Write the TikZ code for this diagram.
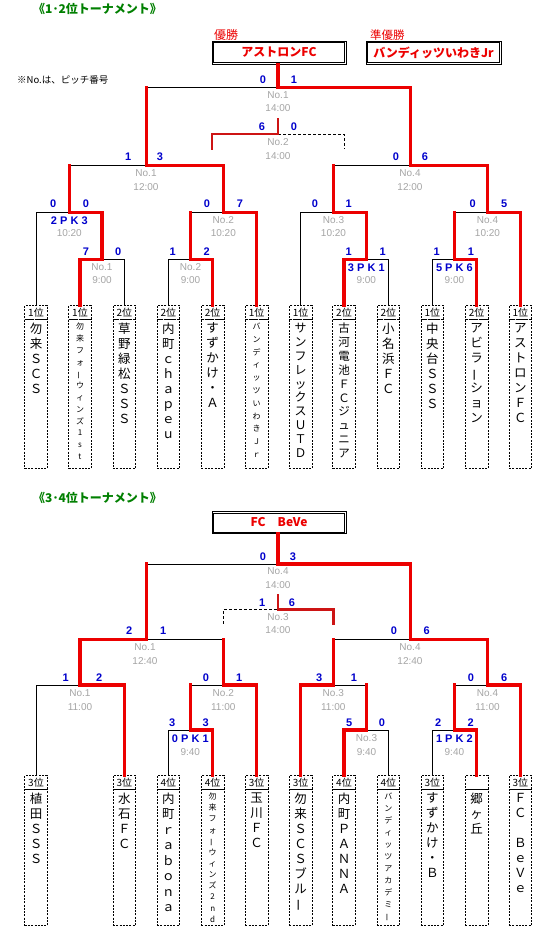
\documentclass[tikz,border=0pt]{standalone}
\usepackage{fontspec}
\setmainfont{Noto Sans CJK JP}
\newfontfamily\lat{Liberation Sans}
\definecolor{lred}{RGB}{236,0,0}
\definecolor{dred}{RGB}{205,20,20}
\definecolor{sblue}{RGB}{0,0,204}
\definecolor{gtxt}{RGB}{165,165,165}
\definecolor{tgreen}{RGB}{0,128,0}
\newcommand\vb{\rotatebox[origin=c]{90}{ー}}
\newcommand\tnbh{149}
\newcommand\team[6]{%
  \node[rankbox] (#1) at (#2,#3+6.8) {#4};
  \node[namebox, minimum height=\tnbh pt] (#1n) at (#2,#3+13.6+\tnbh/2) {};
  \node[#5] (#1t) at (#2,#3+17) {\vphantom{国}#6};
}
\newcommand\innerframe[1]{%
  \draw[line width=0.8pt] ([xshift=2pt,yshift=-2pt]#1.north west) rectangle ([xshift=-2pt,yshift=2pt]#1.south east);
}
\tikzset{
  blk/.style={line width=0.9pt, black},
  rd/.style={line width=3.5pt, lred, line cap=rect, line join=miter},
  rdthin/.style={line width=2.6pt, dred, line cap=rect, line join=miter},
  dsh/.style={line width=0.9pt, black, dash pattern=on 3pt off 2pt},
  score/.style={font=\lat\bfseries\fontsize{11}{12}\selectfont, text=sblue, inner sep=0},
  info/.style={font=\lat\fontsize{10}{11}\selectfont, text=gtxt, inner sep=0},
  rankbox/.style={draw, line width=0.8pt, dash pattern=on 2pt off 1.3pt, minimum width=22.7pt, minimum height=13.6pt, inner sep=0, font=\fontsize{10}{10}\selectfont},
  namebox/.style={draw, line width=0.8pt, dash pattern=on 2pt off 1.3pt, minimum width=22.7pt, inner sep=0},
  col/.style 2 args={font=\fontsize{#1}{#2}\selectfont, align=center, inner sep=0, anchor=north},
  winbox/.style={draw, line width=0.8pt, minimum height=23pt, inner sep=0, text=lred, font=\bfseries\fontsize{12}{13}\selectfont},
  redlab/.style={text=lred, font=\fontsize{12}{13}\selectfont, inner sep=0, anchor=west},
  title/.style={text=tgreen, font=\bfseries\fontsize{12}{13}\selectfont, inner sep=0, anchor=west},
}
\begin{document}
\begin{tikzpicture}[x=1pt,y=-1pt]
\useasboundingbox (0,0) rectangle (543,942);
\fill[white] (0,0) rectangle (543,942);

% ================= headers =================
\node[title] (ttl1) at (33,9) {《1･2位トーナメント》};
\node[redlab] (yu) at (214,35) {優勝};
\node[redlab, font=\fontsize{11.5}{12}\selectfont] (jyu) at (370,35) {準優勝};
\node[winbox, minimum width=134pt] (W1) at (279,52.5) {アストロンFC};
\innerframe{W1}
\node[winbox, minimum width=135pt] (W2) at (433.5,52.5) {バンディッツいわきJr};
\innerframe{W2}
\node[inner sep=0, anchor=west, font=\fontsize{9.5}{10}\selectfont] (note) at (17,80) {※No.は、ピッチ番号};

% ================= top teams =================
\team{T1}{36}{305.7}{1位}{col={12.5}{15}}{勿\\来\\Ｓ\\Ｃ\\Ｓ}
\team{T2}{80}{305.7}{1位}{col={8}{11.8}}{勿\\来\\フ\\ォ\\\vb\\ウ\\ィ\\ン\\ズ\\1\\s\\t}
\team{T3}{124.3}{305.7}{2位}{col={12.5}{15}}{草\\野\\緑\\松\\Ｓ\\Ｓ\\Ｓ}
\team{T4}{168.3}{305.7}{2位}{col={12.5}{15}}{内\\町\\ｃ\\ｈ\\ａ\\ｐ\\ｅ\\ｕ}
\team{T5}{212.7}{305.7}{2位}{col={12.5}{15}}{す\\ず\\か\\け\\・\\Ａ}
\team{T6}{256.7}{305.7}{1位}{col={8}{12.8}}{バ\\ン\\デ\\ィ\\ッ\\ツ\\い\\わ\\き\\Ｊ\\ｒ}
\team{T7}{300.7}{305.7}{1位}{col={12}{13.9}}{サ\\ン\\フ\\レ\\ッ\\ク\\ス\\Ｕ\\Ｔ\\Ｄ}
\team{T8}{344}{305.7}{2位}{col={11.5}{13.9}}{古\\河\\電\\池\\Ｆ\\Ｃ\\ジ\\ュ\\ニ\\ア}
\team{T9}{388.3}{305.7}{2位}{col={12.5}{15}}{小\\名\\浜\\Ｆ\\Ｃ}
\team{T10}{432.3}{305.7}{1位}{col={12.5}{15}}{中\\央\\台\\Ｓ\\Ｓ\\Ｓ}
\team{T11}{476.7}{305.7}{2位}{col={12.5}{15}}{ア\\ビ\\ラ\\\vb\\シ\\ョ\\ン}
\team{T12}{520.3}{305.7}{1位}{col={12.5}{15}}{ア\\ス\\ト\\ロ\\ン\\Ｆ\\Ｃ}

% ================= top junctions =================
\coordinate (a1l) at (80,259.3);   \coordinate (a1c) at (102,259.3);  \coordinate (a1r) at (124.3,259.3);
\coordinate (a2l) at (168.3,259.3);\coordinate (a2c) at (190.5,259.3);\coordinate (a2r) at (212.7,259.3);
\coordinate (a3l) at (344,259.3);  \coordinate (a3c) at (366.3,259.3);\coordinate (a3r) at (388.3,259.3);
\coordinate (a4l) at (432.3,259.3);\coordinate (a4c) at (454.4,259.3);\coordinate (a4r) at (476.7,259.3);
\coordinate (b1l) at (36,212.3);   \coordinate (b1c) at (69.3,212.3); \coordinate (b1r) at (102,212.3);
\coordinate (b2l) at (190.5,212.3);\coordinate (b2c) at (223.3,212.3);\coordinate (b2r) at (256.7,212.3);
\coordinate (b3l) at (300.7,212.3);\coordinate (b3c) at (333.5,212.3);\coordinate (b3r) at (366.3,212.3);
\coordinate (b4l) at (454.4,212.3);\coordinate (b4c) at (487.5,212.3);\coordinate (b4r) at (520.3,212.3);
\coordinate (c1l) at (69.3,165.3); \coordinate (c1c) at (146.7,165.3);\coordinate (c1r) at (223.3,165.3);
\coordinate (c2l) at (333.5,165.3);\coordinate (c2c) at (410.5,165.3);\coordinate (c2r) at (487.5,165.3);
\coordinate (fl) at (146.7,87.5);  \coordinate (fc) at (278,87.5);    \coordinate (fr) at (410.5,87.5);
\coordinate (thl) at (212,134);    \coordinate (thc) at (278,134);    \coordinate (thr) at (344,134);
\coordinate (thtop) at (278,119);  \coordinate (thlb) at (212,149);   \coordinate (thrb) at (344,149);

% black (losers)
\draw[blk] (T1.north) -- (b1l) -- (b1c);
\draw[blk] (T3.north) -- (a1r) -- (a1c);
\draw[blk] (T4.north) -- (a2l) -- (a2c);
\draw[blk] (b2l) -- (b2c);
\draw[blk] (T7.north) -- (b3l) -- (b3c);
\draw[blk] (T9.north) -- (a3r) -- (a3c);
\draw[blk] (T10.north) -- (a4l) -- (a4c);
\draw[blk] (b4l) -- (b4c);
\draw[blk] (c1l) -- (c1c);
\draw[blk] (c2l) -- (c2c);
\draw[blk] (fl) -- (fc);
\draw[dsh] (thc) -- (thr) -- (thrb);
% red (winners)
\draw[rd] (T2.north) -- (a1l) -- (a1c);
\draw[rd] (T5.north) -- (a2r) -- (a2c);
\draw[rd] (T8.north) -- (a3l) -- (a3c);
\draw[rd] (T11.north) -- (a4r) -- (a4c);
\draw[rd] (a1c) -- (b1r) -- (b1c);
\draw[rd] (a2c) -- (b2l);
\draw[rd] (T6.north) -- (b2r) -- (b2c);
\draw[rd] (a3c) -- (b3r) -- (b3c);
\draw[rd] (a4c) -- (b4l);
\draw[rd] (T12.north) -- (b4r) -- (b4c);
\draw[rd] (b1c) -- (c1l);
\draw[rd] (b2c) -- (c1r) -- (c1c);
\draw[rd] (b3c) -- (c2l);
\draw[rd] (b4c) -- (c2r) -- (c2c);
\draw[rd] (c1c) -- (fl);
\draw[rd] (c2c) -- (fr) -- (fc) -- (fc |- W1.south);
\draw[rdthin] (thlb) -- (thl) -- (thc) -- (thtop);

% scores top
\node[score] (s01) at (263,80) {0};    \node[score] (s02) at (294,80) {1};
\node[score] (s03) at (262,127) {6};   \node[score] (s04) at (294,127) {0};
\node[score] (s05) at (128.3,156.5) {1}; \node[score] (s06) at (160,156.5) {3};
\node[score] (s07) at (396,156.5) {0}; \node[score] (s08) at (425,156.5) {6};
\node[score] (s09) at (53.3,204) {0};  \node[score] (s10) at (86,204) {0};
\node[score] (s11) at (207,204) {0};   \node[score] (s12) at (240,204) {7};
\node[score] (s13) at (315,204) {0};   \node[score] (s14) at (348.7,204) {1};
\node[score] (s15) at (472.7,204) {0}; \node[score] (s16) at (504.3,204) {5};
\node[score] (s17) at (86,251.7) {7};  \node[score] (s18) at (118.3,251.7) {0};
\node[score] (s19) at (172.7,251.7) {1}; \node[score] (s20) at (206.7,251.7) {2};
\node[score] (s21) at (348.7,251.7) {1}; \node[score] (s22) at (382.7,251.7) {1};
\node[score] (s23) at (436.7,251.7) {1}; \node[score] (s24) at (471,251.7) {1};

% info top
\node[info] (i01) at (278,95.5) {No.1};  \node[info] (i02) at (278,108.5) {14:00};
\node[info] (i03) at (278,142) {No.2};   \node[info] (i04) at (278,156) {14:00};
\node[info] (i05) at (146,173) {No.1};   \node[info] (i06) at (146,187) {12:00};
\node[info] (i07) at (410,173) {No.4};   \node[info] (i08) at (410,187) {12:00};
\node[score] (p01) at (69.3,221) {2 P K 3}; \node[info] (i10) at (69.3,233) {10:20};
\node[info] (i11) at (223.3,220) {No.2}; \node[info] (i12) at (223.3,233) {10:20};
\node[info] (i13) at (333.5,220) {No.3}; \node[info] (i14) at (333.5,233) {10:20};
\node[info] (i15) at (487.5,220) {No.4}; \node[info] (i16) at (487.5,233) {10:20};
\node[info] (i17) at (102,267) {No.1};   \node[info] (i18) at (102,280) {9:00};
\node[info] (i19) at (190.5,267) {No.2}; \node[info] (i20) at (190.5,280) {9:00};
\node[score] (p02) at (366.3,268) {3 P K 1}; \node[info] (i22) at (366.3,280) {9:00};
\node[score] (p03) at (454.4,268) {5 P K 6}; \node[info] (i24) at (454.4,280) {9:00};

% ================= bottom headers =================
\node[title] (ttl2) at (33,497.5) {《3･4位トーナメント》};
\node[winbox, minimum width=134pt, minimum height=22pt] (W3) at (279,522.5) {FC　BeVe};
\innerframe{W3}

% ================= bottom teams =================
\renewcommand\tnbh{136.4}
\team{B1}{36}{775.7}{3位}{col={12.5}{15}}{植\\田\\Ｓ\\Ｓ\\Ｓ}
\team{B2}{124.3}{775.7}{3位}{col={12.5}{15}}{水\\石\\Ｆ\\Ｃ}
\team{B3}{168.3}{775.7}{4位}{col={12.5}{15.5}}{内\\町\\ｒ\\ａ\\ｂ\\ｏ\\ｎ\\ａ}
\team{B4}{212.7}{775.7}{4位}{col={8}{11.15}}{勿\\来\\フ\\ォ\\\vb\\ウ\\ィ\\ン\\ズ\\2\\n\\d}
\team{B5}{256.7}{775.7}{3位}{col={12.5}{15}}{玉\\川\\Ｆ\\Ｃ}
\team{B6}{300.7}{775.7}{3位}{col={12.5}{15}}{勿\\来\\Ｓ\\Ｃ\\Ｓ\\ブ\\ル\\\vb}
\team{B7}{344}{775.7}{4位}{col={12.5}{15}}{内\\町\\Ｐ\\Ａ\\Ｎ\\Ｎ\\Ａ}
\team{B8}{388.3}{775.7}{4位}{col={8}{12}}{バ\\ン\\デ\\ィ\\ッ\\ツ\\ア\\カ\\デ\\ミ\\\vb}
\team{B9}{432.3}{775.7}{3位}{col={12.5}{15}}{す\\ず\\か\\け\\・\\Ｂ}
\team{B10}{476.7}{775.7}{}{col={12.5}{15}}{郷\\ヶ\\丘}
\team{B11}{520.3}{775.7}{3位}{col={12.5}{15}}{Ｆ\\Ｃ\\　\\Ｂ\\ｅ\\Ｖ\\ｅ}

% ================= bottom junctions =================
\coordinate (r1l) at (168.3,730); \coordinate (r1c) at (190.3,730); \coordinate (r1r) at (212.7,730);
\coordinate (r2l) at (344,730);   \coordinate (r2c) at (366.5,730); \coordinate (r2r) at (388.3,730);
\coordinate (r3l) at (432.3,730); \coordinate (r3c) at (454.4,730); \coordinate (r3r) at (476.7,730);
\coordinate (q1l) at (36,685);    \coordinate (q1c) at (80,685);    \coordinate (q1r) at (124.3,685);
\coordinate (q2l) at (190.3,685); \coordinate (q2c) at (223.3,685); \coordinate (q2r) at (256.7,685);
\coordinate (q3l) at (300.7,685); \coordinate (q3c) at (333.3,685); \coordinate (q3r) at (366.5,685);
\coordinate (q4l) at (454.4,685); \coordinate (q4c) at (487.5,685); \coordinate (q4r) at (520.3,685);
\coordinate (s1l) at (80,639.3);  \coordinate (s1c) at (146.7,639.3); \coordinate (s1r) at (223.3,639.3);
\coordinate (s2l) at (333.3,639.3); \coordinate (s2c) at (410.3,639.3); \coordinate (s2r) at (487.5,639.3);
\coordinate (fbl) at (146.7,564); \coordinate (fbc) at (278,564);   \coordinate (fbr) at (410.3,564);
\coordinate (tbl) at (223.3,609.3); \coordinate (tbc) at (278,609.3); \coordinate (tbr) at (333.3,609.3);
\coordinate (tbtop) at (278,595); \coordinate (tblb) at (223.3,623.7); \coordinate (tbrb) at (333.3,623.7);

% black
\draw[blk] (B1.north) -- (q1l) -- (q1c);
\draw[blk] (B3.north) -- (r1l) -- (r1c);
\draw[blk] (q2l) -- (q2c);
\draw[blk] (s1c) -- (s1r);
\draw[blk] (B8.north) -- (r2r) -- (r2c);
\draw[blk] (q3c) -- (q3r);
\draw[blk] (B9.north) -- (r3l) -- (r3c);
\draw[blk] (q4l) -- (q4c);
\draw[blk] (s2l) -- (s2c);
\draw[blk] (fbl) -- (fbc);
\draw[dsh] (tblb) -- (tbl) -- (tbc);
% red
\draw[rd] (B2.north) -- (q1r) -- (q1c);
\draw[rd] (B4.north) -- (r1r) -- (r1c);
\draw[rd] (r1c) -- (q2l);
\draw[rd] (B5.north) -- (q2r) -- (q2c);
\draw[rd] (q1c) -- (s1l) -- (s1c);
\draw[rd] (q2c) -- (s1r);
\draw[rd] (B7.north) -- (r2l) -- (r2c);
\draw[rd] (B6.north) -- (q3l) -- (q3c);
\draw[rd] (r2c) -- (q3r);
\draw[rd] (B10.north) -- (r3r) -- (r3c);
\draw[rd] (r3c) -- (q4l);
\draw[rd] (B11.north) -- (q4r) -- (q4c);
\draw[rd] (q3c) -- (s2l);
\draw[rd] (q4c) -- (s2r) -- (s2c);
\draw[rd] (s1c) -- (fbl);
\draw[rd] (s2c) -- (fbr) -- (fbc) -- (fbc |- W3.south);
\draw[rdthin] (tbtop) -- (tbc) -- (tbr) -- (tbrb);

% scores bottom
\node[score] (u01) at (263,556.5) {0};   \node[score] (u02) at (293,556.5) {3};
\node[score] (u03) at (262.3,602.7) {1}; \node[score] (u04) at (292,602.7) {6};
\node[score] (u05) at (129.3,630.7) {2}; \node[score] (u06) at (163.3,630.7) {1};
\node[score] (u07) at (394,630.7) {0};   \node[score] (u08) at (426.7,630.7) {6};
\node[score] (u09) at (65.7,677.7) {1};  \node[score] (u10) at (99.3,677.7) {2};
\node[score] (u11) at (206,677.7) {0};   \node[score] (u12) at (239.3,677.7) {1};
\node[score] (u13) at (319.3,677.7) {3}; \node[score] (u14) at (354,677.7) {1};
\node[score] (u15) at (471,677.7) {0};   \node[score] (u16) at (504.3,677.7) {6};
\node[score] (u17) at (172.3,723) {3};   \node[score] (u18) at (205.7,723) {3};
\node[score] (u19) at (349.3,722.7) {5}; \node[score] (u20) at (382,722.7) {0};
\node[score] (u21) at (438.3,722.7) {2}; \node[score] (u22) at (470.7,722.7) {2};

% info bottom
\node[info] (j01) at (278,571.5) {No.4};  \node[info] (j02) at (278,585) {14:00};
\node[info] (j03) at (278,616.7) {No.3};  \node[info] (j04) at (278,630) {14:00};
\node[info] (j05) at (145,646.7) {No.1};  \node[info] (j06) at (145,660.7) {12:40};
\node[info] (j07) at (410,646.7) {No.4};  \node[info] (j08) at (410,660.7) {12:40};
\node[info] (j09) at (80,692.7) {No.1};   \node[info] (j10) at (80,706.7) {11:00};
\node[info] (j11) at (223.3,692.7) {No.2}; \node[info] (j12) at (223.3,706.7) {11:00};
\node[info] (j13) at (333.3,692.7) {No.3}; \node[info] (j14) at (333.3,706.7) {11:00};
\node[info] (j15) at (487.5,692.7) {No.4}; \node[info] (j16) at (487.5,706.7) {11:00};
\node[score] (q01) at (190.3,738.3) {0 P K 1}; \node[info] (j18) at (190.3,751.7) {9:40};
\node[info] (j19) at (366.5,737.7) {No.3}; \node[info] (j20) at (366.5,751.7) {9:40};
\node[score] (q02) at (454.4,738.3) {1 P K 2}; \node[info] (j22) at (454.4,751.7) {9:40};
\end{tikzpicture}
\end{document}
